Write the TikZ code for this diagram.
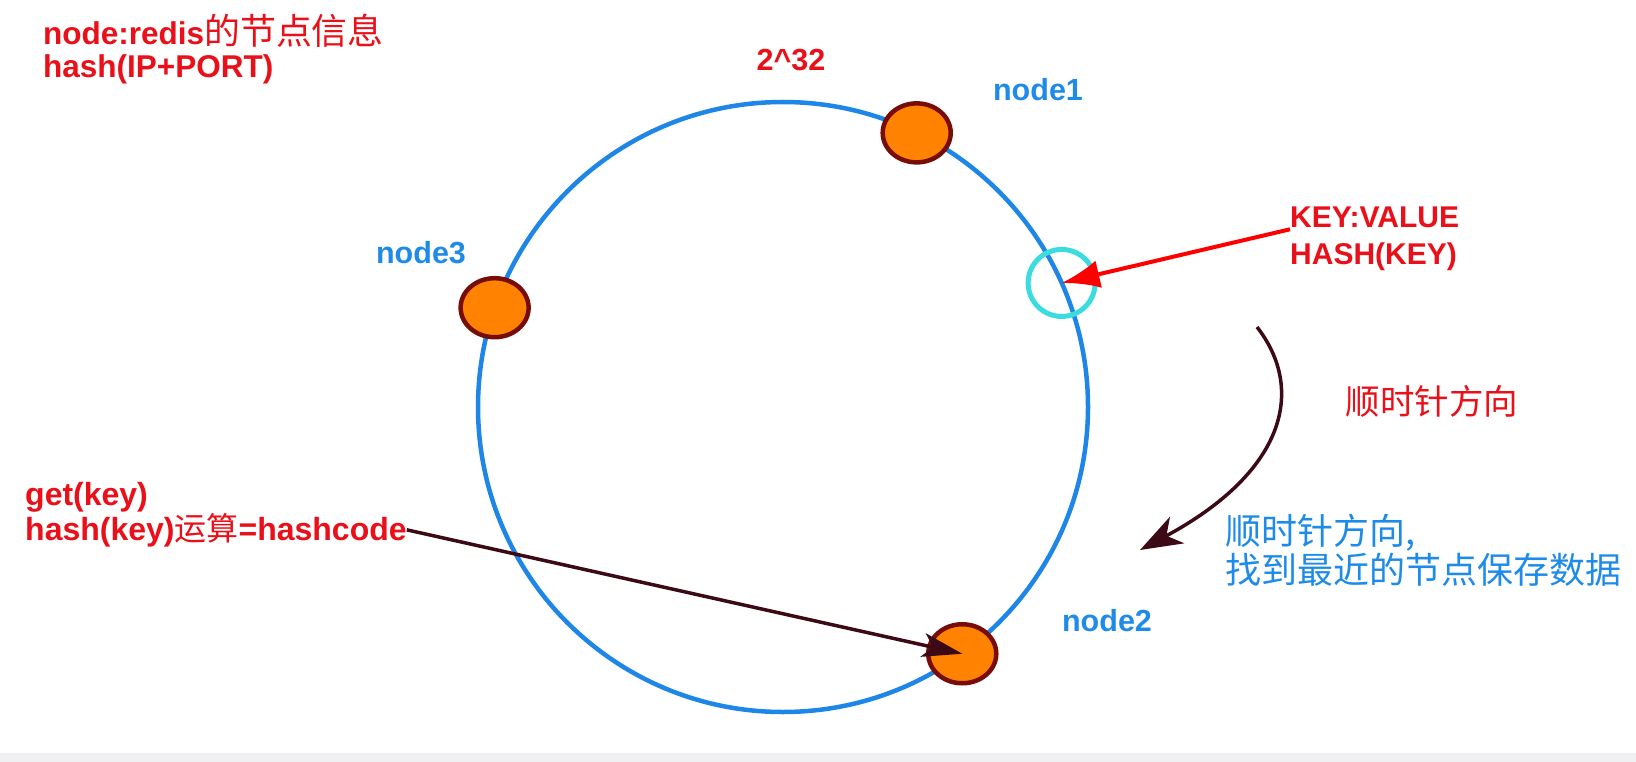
\documentclass[tikz,border=0pt]{standalone}
\usepackage{fontspec}
\setmainfont{Liberation Sans}
\newfontfamily\cjk{Noto Sans CJK SC}
\newfontfamily\cjkwide{Noto Sans CJK SC}[Scale=1.14]
\usetikzlibrary{shapes.geometric,arrows.meta}

\definecolor{ringblue}{HTML}{1E86E6}
\definecolor{labelblue}{HTML}{1F8BE8}
\definecolor{notered}{HTML}{EA1019}
\definecolor{nodeorange}{HTML}{FF8200}
\definecolor{nodeborder}{HTML}{780C06}
\definecolor{hitcyan}{HTML}{3ADCE0}
\definecolor{arrowdark}{HTML}{3C0A14}
\definecolor{bandgray}{HTML}{F0F0F2}

\begin{document}
\begin{tikzpicture}[x=1pt,y=1pt,
    ring/.style={circle,draw=ringblue,line width=4.5pt,minimum size=610pt,
        inner sep=0pt,outer sep=0pt},
    hashnode/.style={ellipse,draw=nodeborder,fill=nodeorange,line width=4.5pt,
        minimum width=68pt,minimum height=59pt,inner sep=0pt},
    hitmark/.style={circle,draw=hitcyan,line width=5pt,minimum size=67pt,inner sep=0pt},
    nodelabel/.style={text=labelblue,inner sep=0pt,
        font=\fontsize{30.5}{32}\selectfont\bfseries},
    notetext/.style={text=notered,align=left,inner sep=0pt,anchor=base west},
    arrowline/.style={draw=arrowdark,line width=3.5pt}]
    \useasboundingbox (0,0) rectangle (1636,-762);
    \fill[white] (0,0) rectangle (1636,-762);
    \fill[bandgray] (0,-753) rectangle (1636,-762);

    \node[ring] (ring) at (783,-407) {};
    \node[hashnode] (n1) at (ring.64) {};
    \node[hashnode] (n3) at (ring.161) {};
    \node[hashnode] (n2) at (ring.-54) {};
    \node[hitmark] (hit) at (ring.24) {};

    \node[nodelabel] (n1label) at (1038,-90) {node1};
    \node[nodelabel] (n2label) at (1107,-621) {node2};
    \node[nodelabel] (n3label) at (421,-253) {node3};
    \node[text=notered,inner sep=0pt,font=\fontsize{30.5}{32}\selectfont\bfseries]
        (top) at (791,-60) {2\textasciicircum32};

    \node[notetext,font=\fontsize{31.5}{33}\selectfont\bfseries] (info) at (43,-78)
        {node:redis{\mdseries\cjkwide 的节点信息}\\hash(IP+PORT)};
    \node[notetext,font=\fontsize{30}{37}\selectfont\bfseries] (kv) at (1290,-265)
        {KEY:VALUE\\HASH(KEY)};
    \node[notetext,font=\fontsize{32}{33}\selectfont\bfseries] (getkey) at (25,-540)
        {get(key)\\hash(key){\mdseries\cjk 运算}=hashcode};
    \node[text=notered,inner sep=0pt,font=\fontsize{34.5}{36}\selectfont]
        (cw) at (1432,-401) {\cjk 顺时针方向};
    \node[text=labelblue,align=left,inner sep=0pt,anchor=base west,
        font=\fontsize{36}{37}\selectfont] (cwnote) at (1225,-583)
        {\cjk 顺时针方向,\\\cjk 找到最近的节点保存数据};

    \draw[draw=red,line width=4pt,-{Latex[length=38pt,width=28pt]}]
        ([yshift=10pt]kv.west) -- (hit.center);
    \draw[arrowline,-{Stealth[length=40pt,width=24pt,inset=10pt]}]
        ([yshift=17pt]getkey.south east) -- (n2.center);
    \coordinate (sweepstart) at (1257,-327);
    \coordinate (sweepend) at (1140,-550);
    \draw[arrowline,-{Stealth[length=42pt,width=30pt,inset=12pt]}]
        (sweepstart) .. controls (1306,-390) and (1285,-472) .. (sweepend);
\end{tikzpicture}
\end{document}
